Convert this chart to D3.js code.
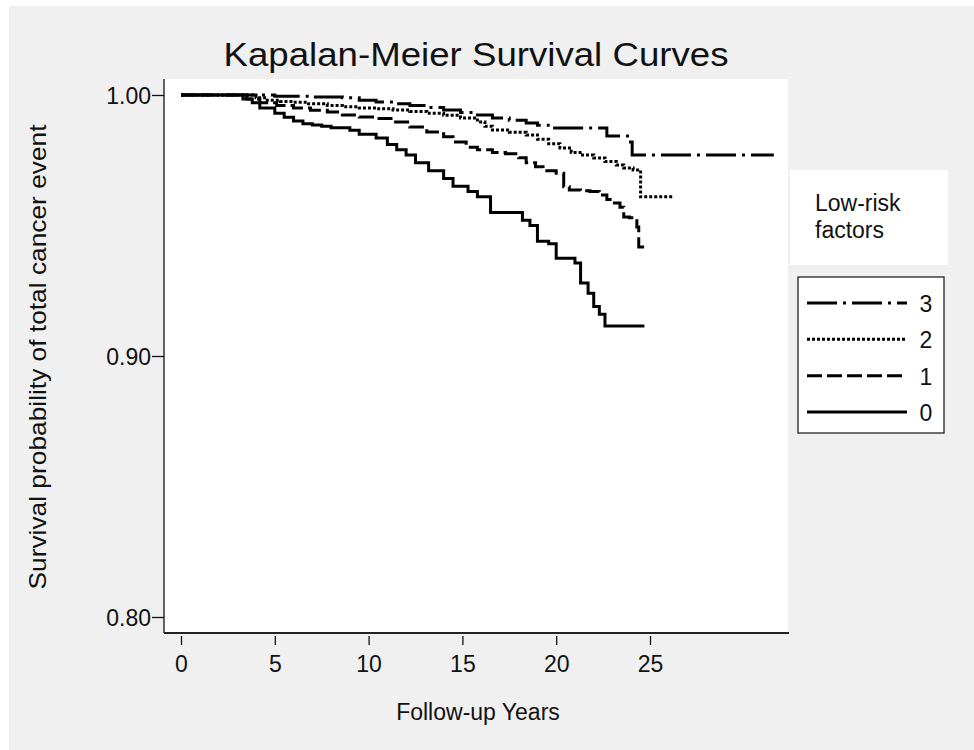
<!DOCTYPE html>
<html>
<head>
<meta charset="utf-8">
<script src="https://cdn.jsdelivr.net/npm/d3@7"></script>
<style>
  body { margin: 0; background: #fff; }
  text { font-family: "Liberation Sans", Arial, sans-serif; fill: #111; }
</style>
</head>
<body>
<svg></svg>
<script>
const WIDTH = 974;
const HEIGHT = 750;

// plot frame
const LEFT = 164, RIGHT = 788, TOP = 79, BOTTOM = 633;

// follow-up years and survival probability
const time0 = [0, 3.3, 3.8, 4.2, 5.0, 5.5, 6.0, 6.5, 7.0, 7.5, 8.0, 9.0, 9.5, 10.4, 11.0, 11.5, 12.0, 12.5, 13.2, 14.0, 14.5, 15.3, 15.8, 16.5, 18.2, 18.6, 19.0, 19.6, 20.0, 21.0, 21.3, 21.7, 22.0, 22.3, 22.6, 24.7];
const surv0 = [1, 0.9985, 0.997, 0.995, 0.993, 0.9915, 0.990, 0.989, 0.9885, 0.988, 0.9875, 0.9865, 0.985, 0.9835, 0.981, 0.979, 0.977, 0.974, 0.971, 0.968, 0.965, 0.963, 0.961, 0.955, 0.952, 0.950, 0.944, 0.943, 0.9375, 0.9356, 0.928, 0.924, 0.919, 0.916, 0.9115, 0.9115];

const time1 = [0, 3.5, 4.2, 5.1, 6.0, 6.9, 7.8, 8.6, 9.5, 10.4, 11.3, 12.2, 13.1, 14.0, 14.5, 15.2, 15.8, 16.6, 17.3, 18.0, 18.4, 18.9, 19.3, 20.0, 20.4, 20.7, 21.3, 21.8, 22.3, 22.7, 23.0, 23.4, 23.6, 23.9, 24.3, 24.4, 24.7];
const surv1 = [1, 0.9985, 0.997, 0.996, 0.995, 0.9942, 0.9935, 0.9923, 0.9916, 0.991, 0.9897, 0.9877, 0.9858, 0.984, 0.982, 0.980, 0.979, 0.978, 0.9775, 0.976, 0.974, 0.9725, 0.971, 0.970, 0.9648, 0.9636, 0.9633, 0.963, 0.9617, 0.960, 0.9586, 0.957, 0.9533, 0.953, 0.9494, 0.9418, 0.9418];

const time2 = [0, 4.0, 4.6, 5.3, 6.0, 6.8, 7.8, 8.6, 9.5, 10.4, 11.3, 12.2, 13.1, 14.0, 14.9, 15.8, 16.2, 16.6, 17.5, 18.4, 19.0, 19.6, 20.2, 20.8, 21.4, 22.0, 22.6, 23.2, 23.6, 24.1, 24.5, 26.2];
const surv2 = [1, 0.9989, 0.998, 0.9975, 0.9972, 0.9966, 0.996, 0.9955, 0.995, 0.9947, 0.9943, 0.9937, 0.993, 0.9922, 0.9912, 0.9897, 0.988, 0.9866, 0.9857, 0.9847, 0.983, 0.9813, 0.9797, 0.978, 0.977, 0.9759, 0.9745, 0.9732, 0.972, 0.9713, 0.961, 0.961];

const time3 = [0, 5.0, 7.0, 8.6, 9.5, 10.4, 11.3, 12.2, 13.1, 14.0, 14.9, 15.8, 16.6, 17.5, 18.4, 19.0, 19.7, 22.7, 23.8, 24.05, 31.6];
const surv3 = [1, 0.9995, 0.9992, 0.9989, 0.998, 0.9973, 0.9966, 0.996, 0.9952, 0.9943, 0.9933, 0.9923, 0.9912, 0.9903, 0.9893, 0.9884, 0.9874, 0.9843, 0.982, 0.977, 0.977];

const groups = ["3", "2", "1", "0"];
const dashes = ["30,6,3,6", "3,2", "15,5", null];

const xTicks = [0, 5, 10, 15, 20, 25];
const yTicks = [0.80, 0.90, 1.00];

let svg = d3.select("svg")
    .attr("width", WIDTH)
    .attr("height", HEIGHT);

// grey page
svg.append("rect")
    .attr("x", 9).attr("y", 6)
    .attr("width", WIDTH - 9).attr("height", HEIGHT - 6)
    .style("fill", "#f0f0f0");

// plot area
svg.append("rect")
    .attr("x", LEFT).attr("y", TOP)
    .attr("width", RIGHT - LEFT).attr("height", BOTTOM - TOP)
    .style("fill", "#fff");

let x = d3.scaleLinear().domain([0, 25]).range([181, 650]);
let y = d3.scaleLinear().domain([0.8, 1.0]).range([617, 95]);

// axes
let yAxis = svg.append("g")
    .attr("transform", `translate(${LEFT},0)`)
    .call(d3.axisLeft(y).tickValues(yTicks).tickFormat(d3.format(".2f")).tickSize(12).tickSizeOuter(0));
yAxis.select(".domain").attr("d", `M0,${TOP}V${BOTTOM}`).style("stroke", "#111").style("stroke-width", 1.3);
yAxis.selectAll(".tick line").style("stroke", "#111").style("stroke-width", 1.3);
yAxis.selectAll(".tick text")
    .attr("x", -13).attr("dy", "0.36em")
    .style("font-size", "23px")
    .style("font-family", "Liberation Sans, Arial, sans-serif")
    .style("fill", "#111");

let xAxis = svg.append("g")
    .attr("transform", `translate(0,${BOTTOM})`)
    .call(d3.axisBottom(x).tickValues(xTicks).tickSize(12).tickSizeOuter(0));
xAxis.select(".domain").attr("d", `M${LEFT},0H${RIGHT + 1}`).style("stroke", "#222").style("stroke-width", 2);
xAxis.selectAll(".tick line").attr("y1", 3).style("stroke", "#111").style("stroke-width", 1.3);
xAxis.selectAll(".tick text")
    .attr("y", 39).attr("dy", 0)
    .style("font-size", "23px")
    .style("font-family", "Liberation Sans, Arial, sans-serif")
    .style("fill", "#111");

// curves
const curves = [
    { t: time3, s: surv3 },
    { t: time2, s: surv2 },
    { t: time1, s: surv1 },
    { t: time0, s: surv0 }
];

let line = d3.line()
    .x((d) => x(d[0]))
    .y((d) => y(d[1]))
    .curve(d3.curveStepAfter);

curves.forEach((c, i) => {
    svg.append("path")
        .attr("d", line(d3.zip(c.t, c.s)))
        .style("fill", "none")
        .style("stroke", "#000")
        .style("stroke-width", 3)
        .style("stroke-dasharray", dashes[i]);
});

// titles
svg.append("text")
    .attr("x", 476).attr("y", 66)
    .attr("text-anchor", "middle")
    .attr("textLength", 505).attr("lengthAdjust", "spacingAndGlyphs")
    .style("font-size", "34px")
    .text("Kapalan-Meier Survival Curves");

svg.append("text")
    .attr("transform", "translate(46,357) rotate(-90)")
    .attr("text-anchor", "middle")
    .attr("textLength", 465).attr("lengthAdjust", "spacingAndGlyphs")
    .style("font-size", "24px")
    .text("Survival probability of total cancer event");

svg.append("text")
    .attr("x", 478).attr("y", 720)
    .attr("text-anchor", "middle")
    .style("font-size", "23px")
    .text("Follow-up Years");

// legend
svg.append("rect")
    .attr("x", 790).attr("y", 170)
    .attr("width", 158).attr("height", 95)
    .style("fill", "#fff");
svg.append("text").attr("x", 815).attr("y", 211).style("font-size", "23px").text("Low-risk");
svg.append("text").attr("x", 815).attr("y", 238).style("font-size", "23px").text("factors");

svg.append("rect")
    .attr("x", 798).attr("y", 277)
    .attr("width", 146).attr("height", 156)
    .style("fill", "#fff")
    .style("stroke", "#222")
    .style("stroke-width", 1.3);

let legendY = d3.scalePoint().domain(groups).range([303, 412]);

groups.forEach((g, i) => {
    svg.append("line")
        .attr("x1", 807).attr("x2", 907)
        .attr("y1", legendY(g)).attr("y2", legendY(g))
        .style("stroke", "#000")
        .style("stroke-width", 3)
        .style("stroke-dasharray", dashes[i]);
    svg.append("text")
        .attr("x", 926).attr("y", legendY(g) + 9)
        .attr("text-anchor", "middle")
        .style("font-size", "23px")
        .text(g);
});
</script>
</body>
</html>
